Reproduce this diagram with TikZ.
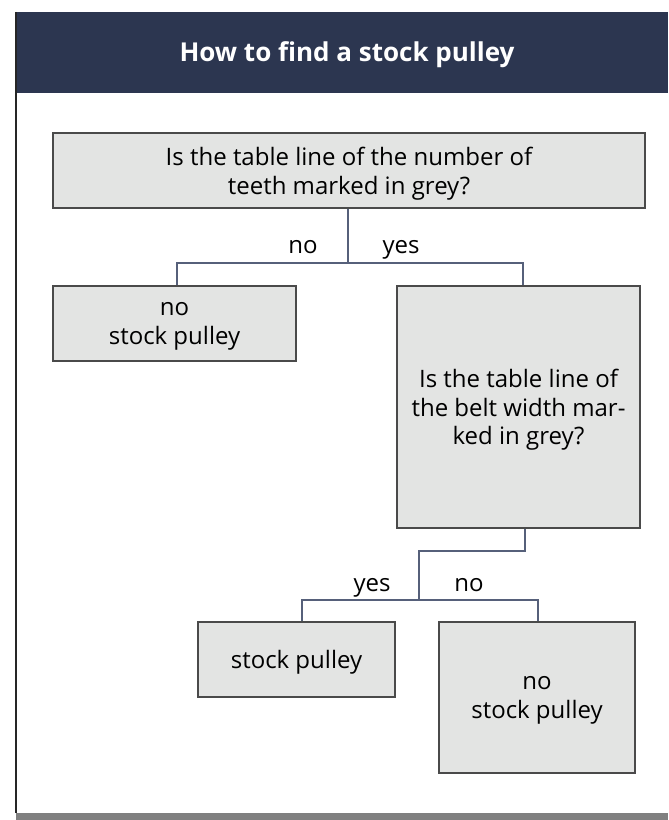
\documentclass[tikz,border=0pt]{standalone}
\usepackage{fontspec}
\setmainfont{Open Sans}
\usetikzlibrary{positioning}
\definecolor{headblue}{HTML}{2C3650}
\definecolor{boxfill}{HTML}{E3E4E3}
\definecolor{boxline}{HTML}{4A4A4A}
\definecolor{linkblue}{HTML}{56607A}
\definecolor{footgrey}{HTML}{808080}
\begin{document}
\begin{tikzpicture}[
    x=0.75pt, y=-0.75pt,
    box/.style={rectangle, draw=boxline, fill=boxfill, line width=0.8pt, align=center, inner sep=0pt, text depth=-3pt, font=\fontsize{18}{21.5}\selectfont},
    answer/.style={inner sep=0pt, anchor=base, font=\fontsize{18}{21.5}\selectfont},
    link/.style={draw=linkblue, line width=1pt}
]
    \useasboundingbox (0,0) rectangle (668,820);

    % Frame and header
    \fill[headblue] (16,12) rectangle (668,93);
    \fill[footgrey] (16,813) rectangle (668,820);
    \draw[black!85, line width=1.1pt] (16,12) -- (16,813);
    \node[anchor=base, text=white, font=\fontsize{19.5}{23}\selectfont\bfseries] (title) at (347,62) {How to find a stock pulley};

    % Nodes
    \node[box, minimum width=444pt, minimum height=56.25pt] (teeth) at (349,170.5)
        {Is the table line of the number of\\teeth marked in grey?};
    \node[box, minimum width=182.25pt, minimum height=56.25pt] (nostock) at (174.5,323.5)
        {no\\stock pulley};
    \node[box, minimum width=182.25pt, minimum height=181.5pt] (width) at (518.5,407)
        {Is the table line of\\the belt width mar-\\ked in grey?};
    \node[box, minimum width=147.75pt, minimum height=56.25pt] (stock) at (296.5,659.5)
        {stock pulley};
    \node[box, minimum width=147pt, minimum height=113.25pt] (nostockb) at (537,697.5)
        {no\\stock pulley};

    % First split
    \coordinate (split) at (348,263);
    \draw[link] (teeth.south -| split) -- (split);
    \draw[link] (nostock.north -| 177,0) |- (split) -| (width.north -| 523,0);
    \node[answer] (no) at (303,253) {no};
    \node[answer] (yes) at (401,253) {yes};

    % Second split
    \coordinate (bend) at (419,551);
    \coordinate (splitb) at (419,600);
    \draw[link] (width.south -| 525,0) |- (bend) -- (splitb);
    \draw[link] (stock.north -| 302,0) |- (splitb) -| (nostockb.north -| 538,0);
    \node[answer] (yesb) at (372,591) {yes};
    \node[answer] (nob) at (469,591) {no};
\end{tikzpicture}
\end{document}
